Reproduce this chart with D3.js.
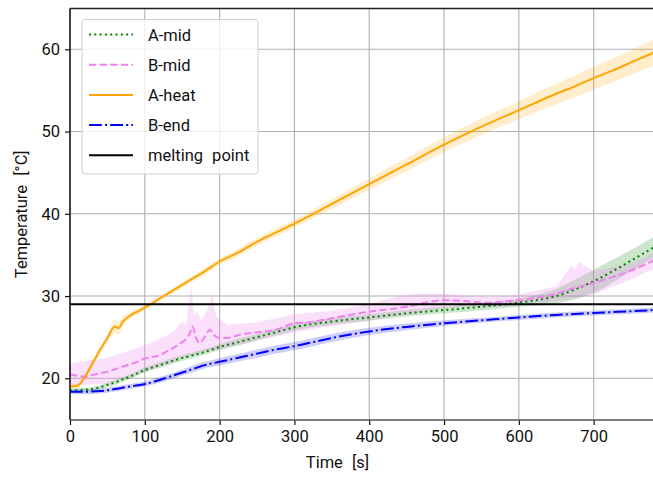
<!DOCTYPE html>
<html>
<head>
<meta charset="utf-8">
<script src="https://cdn.jsdelivr.net/npm/d3@7"></script>
<style>
  html, body { margin: 0; padding: 0; background: #fff; }
  svg text { font-family: "Roboto", "DejaVu Sans Condensed", "Liberation Sans", sans-serif; font-weight: 400; fill: #111; }
</style>
</head>
<body>
<svg id="chart" width="653" height="478"></svg>
<script>
// Measurement times (s) for the smooth channels
const times = [0, 10, 20, 30, 40, 50, 60, 65, 70, 80, 90, 100, 120, 140, 160, 180, 200, 225, 250, 275, 300, 350, 400, 450, 500, 550, 600, 650, 675, 700, 725, 750, 780];

// A-heat: heater-side temperature (°C) and half-width of its spread band
const aHeat   = [19.0, 19.1, 20.2, 21.8, 23.4, 24.9, 26.3, 26.1, 26.8, 27.6, 28.1, 28.6, 29.7, 30.8, 31.9, 33.0, 34.2, 35.3, 36.6, 37.7, 38.8, 41.2, 43.6, 46.0, 48.4, 50.6, 52.6, 54.6, 55.5, 56.5, 57.4, 58.4, 59.6];
const aHeatHW = [0.3, 0.3, 0.35, 0.4, 0.45, 0.5, 0.8, 0.8, 0.6, 0.4, 0.35, 0.3, 0.3, 0.35, 0.35, 0.4, 0.4, 0.45, 0.45, 0.5, 0.5, 0.6, 0.7, 0.8, 0.9, 1.0, 1.1, 1.25, 1.3, 1.4, 1.45, 1.5, 1.6];

// A-mid: middle of sample A
const aMid    = [18.5, 18.55, 18.6, 18.7, 18.9, 19.2, 19.5, 19.65, 19.85, 20.2, 20.6, 21.0, 21.6, 22.2, 22.7, 23.2, 23.8, 24.4, 25.0, 25.6, 26.2, 26.9, 27.4, 27.9, 28.3, 28.7, 29.2, 30.0, 30.8, 31.8, 33.0, 34.3, 35.9];
const aMidHW  = [0.25, 0.25, 0.25, 0.25, 0.25, 0.3, 0.3, 0.3, 0.3, 0.3, 0.3, 0.3, 0.35, 0.35, 0.35, 0.35, 0.35, 0.4, 0.4, 0.4, 0.4, 0.4, 0.4, 0.4, 0.4, 0.45, 0.5, 0.9, 1.2, 1.4, 1.4, 1.3, 1.3];

// B-end: far end of sample B
const bEnd    = [18.35, 18.35, 18.35, 18.4, 18.45, 18.55, 18.7, 18.75, 18.85, 19.0, 19.15, 19.3, 19.8, 20.4, 21.0, 21.6, 22.0, 22.5, 23.0, 23.5, 23.9, 24.9, 25.7, 26.25, 26.7, 27.05, 27.4, 27.7, 27.82, 27.95, 28.05, 28.15, 28.3];
const bEndHW  = [0.3, 0.3, 0.3, 0.3, 0.3, 0.3, 0.3, 0.3, 0.3, 0.3, 0.3, 0.3, 0.35, 0.35, 0.4, 0.4, 0.45, 0.45, 0.5, 0.5, 0.5, 0.5, 0.45, 0.4, 0.35, 0.3, 0.3, 0.3, 0.3, 0.3, 0.3, 0.3, 0.3];

// B-mid: middle of sample B (noisier, sampled more densely)
const bMidTimes = [0, 10, 20, 30, 40, 50, 60, 70, 80, 90, 100, 110, 120, 130, 140, 150, 155, 160, 164, 168, 173, 180, 187, 193, 200, 210, 227, 250, 275, 300, 320, 350, 400, 450, 480, 500, 525, 555, 600, 625, 650, 675, 700, 725, 750, 780];
const bMid      = [20.5, 20.3, 20.2, 20.4, 20.6, 20.8, 21.1, 21.4, 21.7, 22.0, 22.4, 22.6, 22.8, 23.3, 23.8, 24.4, 24.8, 25.4, 26.3, 25.0, 24.3, 25.0, 25.9, 25.2, 24.9, 24.9, 25.3, 25.6, 25.9, 26.7, 26.8, 27.3, 28.1, 28.7, 29.3, 29.5, 29.4, 29.2, 29.5, 29.8, 30.3, 31.0, 31.6, 32.3, 33.1, 34.3];

// B-mid spread band (lower / upper envelopes)
const bBandTimes = [0, 50, 100, 130, 140, 150, 155, 158, 162, 166, 170, 175, 180, 185, 190, 195, 200, 210, 250, 300, 350, 400, 430, 460, 500, 530, 570, 600, 650, 665, 670, 675, 680, 690, 700, 750, 780];
const bBandLow   = [19.2, 19.3, 20.8, 21.7, 22.0, 22.5, 22.6, 22.7, 22.8, 22.9, 23.0, 23.1, 23.2, 23.3, 23.4, 23.4, 23.5, 23.7, 24.6, 25.6, 26.4, 27.0, 27.5, 27.8, 28.6, 28.7, 28.7, 28.9, 29.4, 29.6, 29.7, 29.8, 29.9, 30.0, 30.2, 32.0, 33.3];
const bBandHigh  = [21.8, 22.5, 24.0, 25.2, 25.8, 27.0, 26.4, 28.5, 31.0, 27.6, 28.2, 27.0, 27.8, 28.6, 30.2, 27.6, 27.2, 26.5, 26.8, 27.8, 28.2, 29.0, 29.8, 30.3, 30.3, 30.0, 29.9, 30.2, 31.2, 33.0, 33.8, 33.2, 34.2, 33.6, 33.0, 34.0, 35.2];

const meltingPoint = 29;

const xTicks = [0, 100, 200, 300, 400, 500, 600, 700];
const yTicks = [20, 30, 40, 50, 60];

const legendLabels = ["A-mid", "B-mid", "A-heat", "B-end", "melting point"];

// ---- layout ----
const svg = d3.select("#chart");
const mLeft = 70, mTop = 8.5, mRight = 655, mBottom = 420;

const x = d3.scaleLinear().domain([0, 782]).range([mLeft, mRight]);
const y = d3.scaleLinear().domain([14.93, 64.96]).range([mBottom, mTop]);

const plot = svg.append("g");
svg.append("defs").append("clipPath").attr("id", "clip")
  .append("rect").attr("x", mLeft).attr("y", mTop).attr("width", mRight - mLeft).attr("height", mBottom - mTop);

// grid
const grid = plot.append("g");
grid.selectAll(".gx").data(xTicks).join("line")
  .attr("x1", d => x(d)).attr("x2", d => x(d)).attr("y1", mTop).attr("y2", mBottom)
  .attr("stroke", "#b0b0b0").attr("stroke-width", 1.1);
grid.selectAll(".gy").data(yTicks).join("line")
  .attr("x1", mLeft).attr("x2", mRight).attr("y1", d => y(d)).attr("y2", d => y(d))
  .attr("stroke", "#b0b0b0").attr("stroke-width", 1.1);

const layer = plot.append("g").attr("clip-path", "url(#clip)");
const curve = d3.curveMonotoneX;

function band(ts, lo, hi, color, opacity, c) {
  const area = d3.area().curve(c || curve)
    .x((d, i) => x(ts[i])).y0((d, i) => y(lo[i])).y1((d, i) => y(hi[i]));
  layer.append("path").datum(ts).attr("d", area)
    .attr("fill", color).attr("fill-opacity", opacity).attr("stroke", "none");
}
function line(ts, vals, color, dash, width) {
  const gen = d3.line().curve(curve).x((d, i) => x(ts[i])).y(d => y(d));
  layer.append("path").datum(vals).attr("d", gen)
    .attr("fill", "none").attr("stroke", color).attr("stroke-width", width)
    .attr("stroke-dasharray", dash);
}

// spread bands
band(times, aMid.map((v, i) => v - aMidHW[i]), aMid.map((v, i) => v + aMidHW[i]), "green", 0.2);
band(bBandTimes, bBandLow, bBandHigh, "violet", 0.25, d3.curveLinear);
band(times, aHeat.map((v, i) => v - aHeatHW[i]), aHeat.map((v, i) => v + aHeatHW[i]), "orange", 0.2);
band(times, bEnd.map((v, i) => v - bEndHW[i]), bEnd.map((v, i) => v + bEndHW[i]), "blue", 0.2);

// mean curves
const styles = [
  { color: "green",  dash: "2,3.3" },
  { color: "violet", dash: "7.4,3.2" },
  { color: "orange", dash: null },
  { color: "blue",   dash: "12.8,3.2,2,3.2" },
  { color: "black",  dash: null }
];
line(times, aMid, styles[0].color, styles[0].dash, 2);
line(bMidTimes, bMid, styles[1].color, styles[1].dash, 2);
line(times, aHeat, styles[2].color, styles[2].dash, 2);
line(times, bEnd, styles[3].color, styles[3].dash, 2);

// melting point reference
layer.append("line")
  .attr("x1", mLeft).attr("x2", mRight).attr("y1", y(meltingPoint)).attr("y2", y(meltingPoint))
  .attr("stroke", "black").attr("stroke-width", 2);

// axes
const xAxis = d3.axisBottom(x).tickValues(xTicks).tickSize(5).tickPadding(5).tickFormat(d3.format("d"));
const yAxis = d3.axisLeft(y).tickValues(yTicks).tickSize(5).tickPadding(5).tickFormat(d3.format("d"));
const gx = svg.append("g").attr("transform", `translate(0,${mBottom})`).call(xAxis);
const gy = svg.append("g").attr("transform", `translate(${mLeft},0)`).call(yAxis);
[gx, gy].forEach(g => {
  g.select(".domain").remove();
  g.selectAll(".tick line").attr("stroke", "#111").attr("stroke-width", 1.2);
  g.selectAll(".tick text").attr("font-size", 16.5).attr("fill", "#111")
    .attr("font-family", null);
});

// spines
svg.append("line").attr("x1", mLeft).attr("x2", mRight).attr("y1", mTop).attr("y2", mTop).attr("stroke", "#222").attr("stroke-width", 1.5);
svg.append("line").attr("x1", mLeft).attr("x2", mRight).attr("y1", mBottom).attr("y2", mBottom).attr("stroke", "#555").attr("stroke-width", 1.5);
svg.append("line").attr("x1", mLeft).attr("x2", mLeft).attr("y1", mTop).attr("y2", mBottom).attr("stroke", "#111").attr("stroke-width", 1.5);

// axis titles
svg.append("text").attr("x", (mLeft + 605) / 2).attr("y", 468).attr("text-anchor", "middle")
  .attr("font-size", 16.5).attr("word-spacing", 5).text("Time [s]");
svg.append("text").attr("transform", `translate(27,${(mTop + mBottom) / 2}) rotate(-90)`)
  .attr("text-anchor", "middle").attr("font-size", 16.5).attr("word-spacing", 5).text("Temperature [°C]");

// legend
const lg = svg.append("g");
lg.append("rect").attr("x", 82).attr("y", 19.5).attr("width", 176).attr("height", 154.5).attr("rx", 3)
  .attr("fill", "white").attr("fill-opacity", 0.8).attr("stroke", "#d0d0d0").attr("stroke-width", 1);
legendLabels.forEach((lab, i) => {
  const yy = 34.5 + i * 30.2;
  lg.append("line").attr("x1", 89).attr("x2", 133).attr("y1", yy).attr("y2", yy)
    .attr("stroke", styles[i].color).attr("stroke-width", 2).attr("stroke-dasharray", styles[i].dash);
  lg.append("text").attr("x", 148).attr("y", yy + 6).attr("font-size", 16.5).attr("word-spacing", 5).text(lab);
});
</script>
</body>
</html>
